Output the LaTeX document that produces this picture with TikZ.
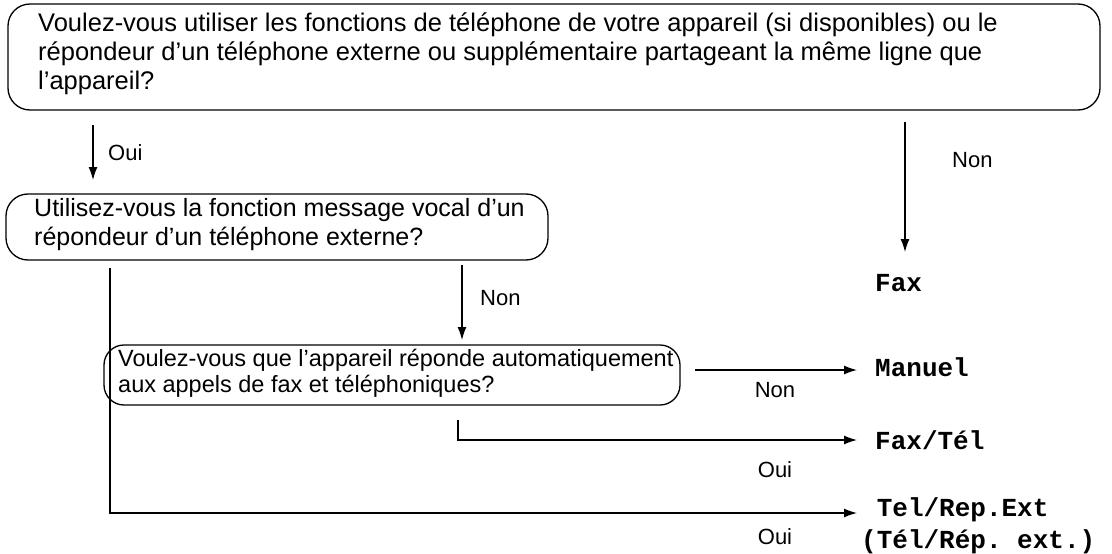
\documentclass[tikz,border=0pt]{standalone}
\usepackage{fontspec}
\setmainfont{Liberation Sans}
\setmonofont{Liberation Mono}
\usetikzlibrary{arrows.meta,positioning}
\newcommand\ap{\char39 }

\begin{document}
\begin{tikzpicture}[
    x=1pt, y=-1pt,
    question/.style={rectangle, draw, line width=1.3pt, rounded corners=22pt, inner sep=0pt},
    qtext/.style={anchor=north west, align=left, inner sep=0pt},
    answer/.style={anchor=west, inner sep=0pt, font=\fontsize{26}{32}\selectfont\ttfamily\bfseries, align=left},
    lbl/.style={inner sep=0pt, font=\fontsize{22}{24}\selectfont},
    arrow/.style={-{Latex[length=13pt,width=9pt]}, line width=1.3pt}
]
\useasboundingbox (0,0) rectangle (1112,554);

\node[question, minimum width=1092pt, minimum height=106pt] (q1) at (554,57) {};
\node[qtext, font=\fontsize{25.5}{29}\selectfont] at (38,13)
  {Voulez-vous utiliser les fonctions de téléphone de votre appareil (si disponibles) ou le\\
   répondeur d\ap un téléphone externe ou supplémentaire partageant la même ligne que\\
   l\ap appareil?};

\node[question, minimum width=542pt, minimum height=66pt] (q2) at (277,227) {};
\node[qtext, font=\fontsize{25}{29}\selectfont] at (34,198)
  {Utilisez-vous la fonction message vocal d\ap un\\ répondeur d\ap un téléphone externe?};

\node[question, minimum width=576pt, minimum height=60pt, rounded corners=20pt] (q3) at (392,375) {};
\node[qtext, font=\fontsize{23.5}{26}\selectfont] at (118,349)
  {Voulez-vous que l\ap appareil réponde automatiquement\\ aux appels de fax et téléphoniques?};

\node[answer] (fax) at (875,283) {Fax};
\node[answer] (manuel) at (875,367) {Manuel};
\node[answer] (faxtel) at (875,440) {Fax/Tél};
\node[answer, anchor=north west] (telrep) at (861,497) {\hspace*{15.6pt}Tel/Rep.Ext\\(Tél/Rép. ext.)};

% yes / no connectors
\draw[arrow] (93,125) -- (93,180);
\node[lbl, anchor=west] at (108,153) {Oui};
\draw[arrow] (905,122) -- (905,252);
\node[lbl, anchor=west] at (952,160) {Non};
\draw[arrow] (462,265) -- (462,340);
\node[lbl, anchor=west] at (480,298) {Non};
\draw[arrow] (695,370) -- (857,370);
\node[lbl] at (775,390) {Non};
\draw[arrow] (458,420) |- (857,440);
\node[lbl] at (775,470) {Oui};
\draw[arrow] (110,268) |- (857,513);
\node[lbl] at (775,537) {Oui};
\end{tikzpicture}
\end{document}
